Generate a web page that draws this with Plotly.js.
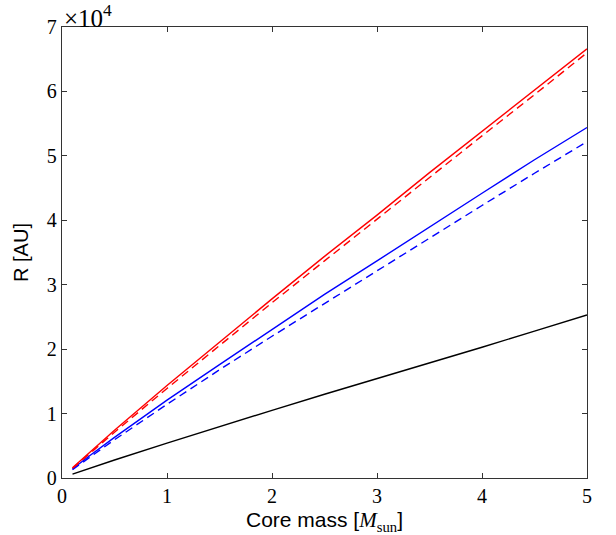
<!DOCTYPE html>
<html>
<head>
<meta charset="utf-8">
<script src="https://cdn.plot.ly/plotly-3.0.1.min.js"></script>
<style>html,body{margin:0;padding:0;background:#fff;}#chart{width:616px;height:535px;}</style>
</head>
<body>
<div id="chart"></div>
<script>
// Core mass [M_sun]
const coreMass = [0.1, 0.25, 0.5, 1, 1.5, 2, 2.5, 3, 3.5, 4, 4.5, 5];
// R in units of 1e4 AU
const redSolid   = [0.16, 0.383, 0.742, 1.436, 2.11, 2.78, 3.44, 4.08, 4.74, 5.38, 6.02, 6.66];
const redDashed  = [0.15, 0.364, 0.711, 1.39, 2.06, 2.72, 3.37, 4.02, 4.67, 5.31, 5.95, 6.60];
const blueSolid  = [0.14, 0.330, 0.631, 1.208, 1.76, 2.31, 2.85, 3.37, 3.90, 4.42, 4.94, 5.44];
const blueDashed = [0.13, 0.309, 0.594, 1.143, 1.68, 2.20, 2.71, 3.21, 3.73, 4.23, 4.73, 5.22];
const blackSolid = [0.06, 0.144, 0.279, 0.541, 0.80, 1.05, 1.30, 1.54, 1.79, 2.03, 2.28, 2.53];
const xTicks = [0, 1, 2, 3, 4, 5];
const yTicks = [0, 1, 2, 3, 4, 5, 6, 7];

const mk = (y, color, dash) => ({
  x: coreMass, y: y, type: 'scatter', mode: 'lines',
  line: {color: color, width: 1.4, dash: dash},
  hoverinfo: 'skip', showlegend: false
});

const data = [
  mk(blackSolid, '#000000', 'solid'),
  mk(blueDashed, '#0000ff', '8px,5px'),
  mk(blueSolid, '#0000ff', 'solid'),
  mk(redDashed, '#ff0000', '8px,5px'),
  mk(redSolid, '#ff0000', 'solid')
];

const tickFont = {family: 'Liberation Serif, DejaVu Serif, serif', size: 20, color: '#000'};
const axisCommon = {
  showgrid: false, zeroline: false, showline: true, linecolor: '#333', linewidth: 1.2,
  mirror: 'ticks', ticks: 'inside', ticklen: 5, tickwidth: 1, tickcolor: '#333',
  tickfont: tickFont
};

const layout = {
  width: 616, height: 535,
  margin: {l: 62, r: 29, t: 27, b: 57},
  paper_bgcolor: '#fff', plot_bgcolor: '#fff',
  xaxis: Object.assign({}, axisCommon, {
    range: [0, 5], tickvals: xTicks, ticktext: xTicks.map(String),
    title: {text: 'Core mass [<i style="font-family:Liberation Serif">M</i><sub style="font-family:Liberation Serif">sun</sub>]',
            font: {family: 'Liberation Sans, Arial, sans-serif', size: 21, color: '#000'}, standoff: 6}
  }),
  yaxis: Object.assign({}, axisCommon, {
    range: [0, 7], tickvals: yTicks, ticktext: yTicks.map(String),
    title: {text: 'R [AU]', font: {family: 'Liberation Sans, Arial, sans-serif', size: 20, color: '#000'}, standoff: 12}
  }),
  annotations: [{
    xref: 'paper', yref: 'paper', x: 0.0, y: 1.0, xanchor: 'left', yanchor: 'bottom', yshift: -7,
    text: '×10<sup>4</sup>', showarrow: false,
    font: {family: 'Liberation Serif, DejaVu Serif, serif', size: 25, color: '#000'}
  }]
};

Plotly.newPlot('chart', data, layout, {displayModeBar: false, staticPlot: true});
</script>
</body>
</html>
